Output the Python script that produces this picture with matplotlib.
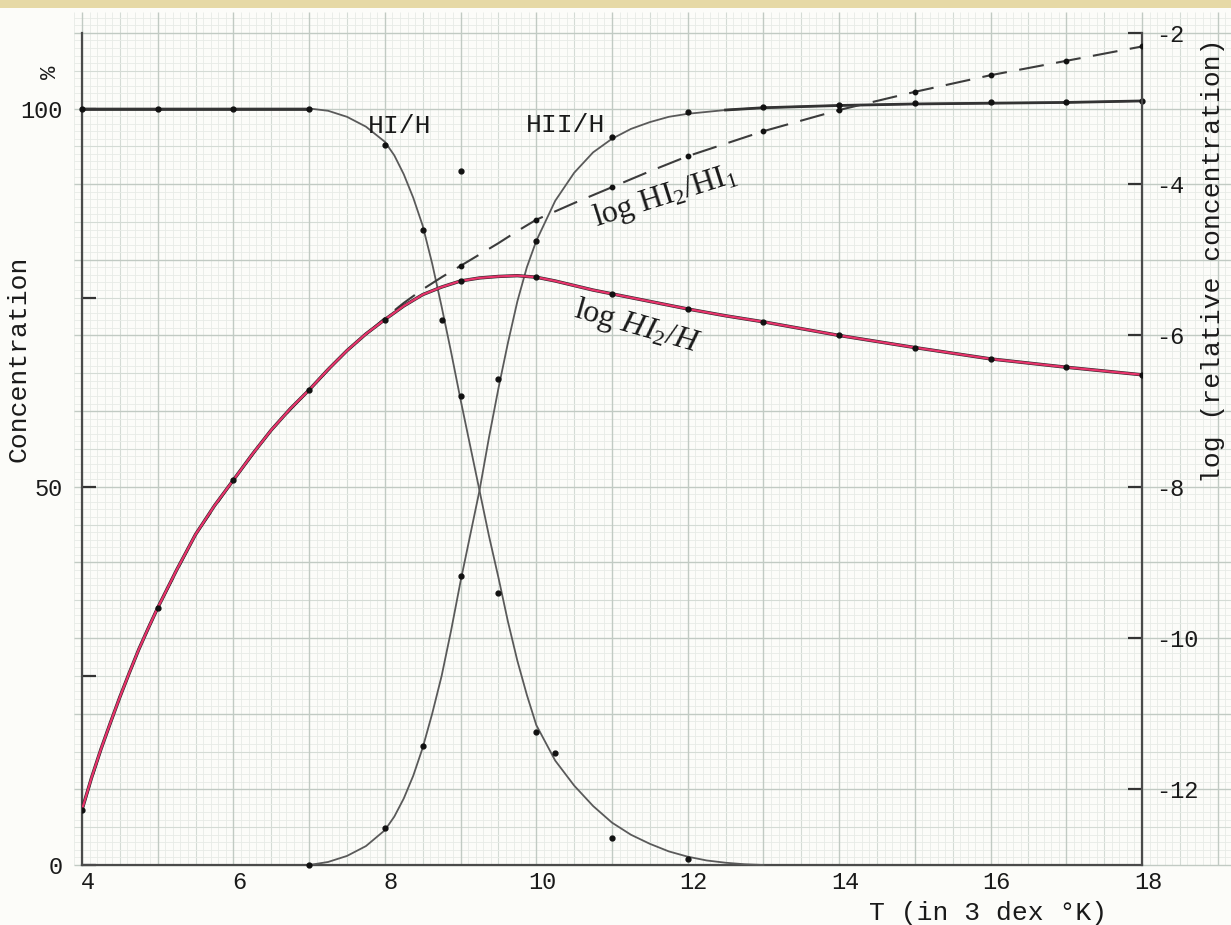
import numpy as np
import matplotlib
matplotlib.use('Agg')
import matplotlib.pyplot as plt
from matplotlib.patches import Rectangle
from matplotlib.transforms import ScaledTranslation

plt.rcParams['axes.unicode_minus'] = False
plt.rcParams['mathtext.fontset'] = 'custom'
plt.rcParams['mathtext.rm'] = 'Liberation Serif'
plt.rcParams['mathtext.it'] = 'Liberation Serif:italic'

# ---------------- data ----------------
# HI/H  (percent, left axis)
T_hi = [4, 5, 6, 7, 7.25, 7.5, 7.75, 8, 8.125, 8.25, 8.375, 8.5, 8.625, 8.75,
        8.875, 9, 9.125, 9.25, 9.375, 9.5, 9.625, 9.75, 9.875, 10, 10.25, 10.5,
        10.75, 11, 11.25, 11.5, 11.75, 12, 12.25, 12.5, 12.75, 13]
HI_H = [100, 100, 100, 100, 99.7, 98.9, 97.6, 95.6, 93.8, 91.3, 88.2, 84.5, 79.5,
        73.8, 67.8, 61.5, 55.5, 49.5, 43.5, 38, 32.2, 27, 22.5, 18.5, 13.8, 10.5,
        7.8, 5.6, 4.0, 2.8, 1.8, 1.1, 0.6, 0.3, 0.1, 0]
T_hi_pts = [4, 5, 6, 7, 8, 8.5, 8.75, 9, 9.5, 10, 10.25, 11, 12]
HI_H_pts = [100, 100, 100, 100, 95.2, 84, 72, 62, 36, 17.6, 14.8, 3.6, 0.8]

# HII/H (percent, left axis)
T_hii = [7, 7.25, 7.5, 7.75, 8, 8.125, 8.25, 8.375, 8.5, 8.625, 8.75, 8.875, 9,
         9.125, 9.25, 9.375, 9.5, 9.625, 9.75, 9.875, 10, 10.25, 10.5, 10.75, 11,
         11.25, 11.5, 11.75, 12, 12.5, 13, 14, 15, 16, 17, 18]
HII_H = [0, 0.4, 1.2, 2.5, 4.6, 6.4, 8.8, 11.8, 15.5, 20, 25, 31, 37.5, 43.5,
         49.5, 56.5, 63, 69, 74.5, 79, 82.5, 87.8, 91.5, 94.2, 96, 97.3, 98.2,
         98.9, 99.3, 99.8, 100.1, 100.4, 100.6, 100.7, 100.8, 101]
T_hii_pts = [7, 8, 8.5, 9, 9.5, 10, 11, 12, 13, 14, 15, 16, 17, 18]
HII_H_pts = [0, 4.9, 15.7, 38.2, 64.3, 82.5, 96.2, 99.6, 100.2, 100.5, 100.7, 100.8, 100.9, 101]

# stray plotted point
T_stray = [9]
C_stray = [91.8]

# log HI2/H (right axis)
T_h2 = [4, 4.125, 4.25, 4.375, 4.5, 4.625, 4.75, 4.875, 5, 5.25, 5.5, 5.75, 6,
        6.25, 6.5, 6.75, 7, 7.25, 7.5, 7.75, 8, 8.25, 8.5, 8.75, 9, 9.25, 9.5,
        9.75, 10, 10.25, 10.5, 10.75, 11, 11.5, 12, 12.5, 13, 14, 15, 16, 17, 18]
LOG_H2_H = [-12.27, -11.85, -11.47, -11.12, -10.78, -10.46, -10.15, -9.87, -9.6,
            -9.1, -8.63, -8.25, -7.91, -7.57, -7.25, -6.97, -6.72, -6.45, -6.2,
            -5.98, -5.79, -5.61, -5.46, -5.36, -5.28, -5.24, -5.22, -5.21, -5.23,
            -5.28, -5.34, -5.4, -5.45, -5.55, -5.65, -5.74, -5.82, -6.0, -6.16,
            -6.31, -6.42, -6.52]

# log HI2/HI1 (right axis, dashed)
T_h21 = [4, 4.25, 4.5, 4.75, 5, 5.5, 6, 6.5, 7, 7.5, 8, 8.25, 8.5, 8.75, 9, 9.25,
         9.5, 9.75, 10, 10.5, 11, 11.5, 12, 13, 14, 15, 16, 17, 18]
LOG_H2_H1 = [-12.27, -11.47, -10.78, -10.15, -9.6, -8.63, -7.91, -7.25, -6.72,
             -6.2, -5.77, -5.57, -5.39, -5.23, -5.08, -4.93, -4.78, -4.62, -4.47,
             -4.25, -4.04, -3.83, -3.63, -3.3, -3.02, -2.78, -2.56, -2.37, -2.18]

x_ticks = [4, 6, 8, 10, 12, 14, 16, 18]
left_ticks = [0, 25, 50, 75, 100]
left_labels = ['0', '', '50', '', '100']
right_ticks = [-12, -10, -8, -6, -4, -2]
right_labels = ['-12', '-10', '-8', '-6', '-4', '-2']

# ---------------- layout ----------------
W, H = 1231, 925
fig = plt.figure(figsize=(W / 100, H / 100), dpi=100)
fig.patch.set_facecolor('#fcfcf9')

x0px, x1px, ybot = 82, 1142, 865
PX_X = (x1px - x0px) / 14.0
PX_Y = 7.565
ymax = ybot / PX_Y

MONO = 'Liberation Mono'
SERIF = 'Liberation Serif'
INK = '#1a1a1a'

# graph-paper background
bg = fig.add_axes([0, 0, 1, 1], zorder=0)
bg.set_xlim(4 - x0px / PX_X, 4 + (W - x0px) / PX_X)
bg.set_ylim(-(H - ybot) / PX_Y, ymax)
bg.axis('off')
gx0, gx1 = 3.9, bg.get_xlim()[1]
gy0, gy1 = 0, ymax - 12 / PX_Y


def paper_style(k):
    if k % 10 == 0:
        return '#c1cac3', 1.0, 2
    if k % 5 == 0:
        return '#d4dbd5', 0.8, 1
    return '#e7ebe6', 0.6, 1


for k in range(39, 193):
    c, lw, z = paper_style(k)
    bg.vlines(k / 10, gy0, gy1, colors=c, linewidth=lw, zorder=z)
for k in range(0, int(gy1) + 1):
    c, lw, z = paper_style(k)
    bg.hlines(k, gx0, gx1, colors=c, linewidth=lw, zorder=z)
fig.patches.append(Rectangle((0, 1 - 8 / H), 1, 8 / H, transform=fig.transFigure,
                             facecolor='#e6d9a6', edgecolor='none', zorder=0))

# main axes
ax = fig.add_axes([x0px / W, (H - ybot) / H, (x1px - x0px) / W, ybot / H], zorder=2)
ax.patch.set_alpha(0)
ax.set_xlim(4, 18)
ax.set_ylim(0, ymax)
ax2 = ax.twinx()
ax2.set_ylim(-13, -13 + ymax / 10)

for s in ['top', 'right']:
    ax.spines[s].set_visible(False)
for s in ['top', 'left', 'bottom']:
    ax2.spines[s].set_visible(False)
ax.spines['left'].set_bounds(0, 110)
ax2.spines['right'].set_bounds(-13, -2)
for sp in [ax.spines['left'], ax.spines['bottom'], ax2.spines['right']]:
    sp.set_color('#4a4a4a')
    sp.set_linewidth(1.6)

ax.set_xticks(x_ticks)
ax.set_xticklabels([str(v) for v in x_ticks])
ax.tick_params(axis='x', length=0, pad=4, labelsize=17, labelcolor=INK)
ax.set_yticks(left_ticks)
ax.set_yticklabels(left_labels)
ax.tick_params(axis='y', direction='in', length=10, width=1.6, color='#333333',
               pad=14, labelsize=17, labelcolor=INK)
ax2.set_yticks(right_ticks)
ax2.set_yticklabels(right_labels)
ax2.tick_params(axis='y', direction='in', length=10, width=1.6, color='#333333',
                pad=10, labelsize=17, labelcolor=INK)
for lab in ax.get_xticklabels() + ax.get_yticklabels() + ax2.get_yticklabels():
    lab.set_fontfamily(MONO)
shift = ScaledTranslation(6 / 100, 0, fig.dpi_scale_trans)
for lab in ax.get_xticklabels():
    lab.set_transform(lab.get_transform() + shift)

ax.set_xlabel('T (in 3 dex \u00b0K)', fontsize=19, family=MONO, color=INK,
              ha='center', va='center')
ax.xaxis.set_label_coords(0.855, -0.056)
ax.set_ylabel('Concentration', fontsize=19, family=MONO, color=INK,
              ha='center', va='center')
ax.yaxis.set_label_coords(-0.060, 0.585)
ax2.set_ylabel('log (relative concentration)', fontsize=19, family=MONO, color=INK,
               ha='center', va='center', rotation=90)
ax2.yaxis.set_label_coords(1.067, 0.699)
ax.text(3.58, 104.8, '%', rotation=90, fontsize=16, family=MONO, color=INK,
        ha='center', va='center', clip_on=False)

# curves
ax.plot(T_hi, HI_H, color='#5a5a5a', lw=1.3, zorder=3, clip_on=False)
ax.plot(T_hi[:4], HI_H[:4], color='#333333', lw=2.0, zorder=3, clip_on=False)
ax.plot(T_hii, HII_H, color='#5a5a5a', lw=1.3, zorder=3, clip_on=False)
ax.plot(T_hii[-7:], HII_H[-7:], color='#333333', lw=2.0, zorder=3, clip_on=False)
ax.plot(T_hi_pts, HI_H_pts, 'o', color='#111111', ms=3.5, zorder=4, clip_on=False)
ax.plot(T_hii_pts, HII_H_pts, 'o', color='#111111', ms=3.5, zorder=4, clip_on=False)
ax.plot(T_stray, C_stray, 'o', color='#111111', ms=3.5, zorder=4)

ax2.plot(T_h21, LOG_H2_H1, color='#3c3c3c', lw=1.5, ls=(0, (12, 6)), zorder=3)
ax2.plot(T_h21, LOG_H2_H1, 'o', color='#111111', ms=3.2, zorder=4,
         markevery=[t >= 9 and float(t).is_integer() for t in T_h21], ls='none')
ax2.plot(T_h2, LOG_H2_H, color='#262626', lw=2.4, zorder=4)
ax2.plot(T_h2, LOG_H2_H, color='#e8336b', lw=1.6, zorder=5)
ax2.plot(T_h2, LOG_H2_H, 'o', color='#111111', ms=3.5, zorder=6,
         markevery=[float(t).is_integer() for t in T_h2], ls='none')

# curve labels
ax.text(8.19, 97.7, 'HI/H', fontsize=19, family=MONO, color=INK, ha='center', va='center')
ax.text(10.39, 97.8, 'HII/H', fontsize=19, family=MONO, color=INK, ha='center', va='center')
ax.text(11.71, 88.3, r'log HI$_\mathrm{2}$/HI$_\mathrm{1}$', fontsize=23, family=SERIF,
        color=INK, ha='center', va='center', rotation=17.6)
ax.text(11.33, 71.1, r'log $\mathit{HI}_\mathrm{2}$/$\mathit{H}$', fontsize=23, family=SERIF,
        color=INK, ha='center', va='center', rotation=-16)

fig.savefig('out.png', dpi=100, facecolor=fig.get_facecolor())
